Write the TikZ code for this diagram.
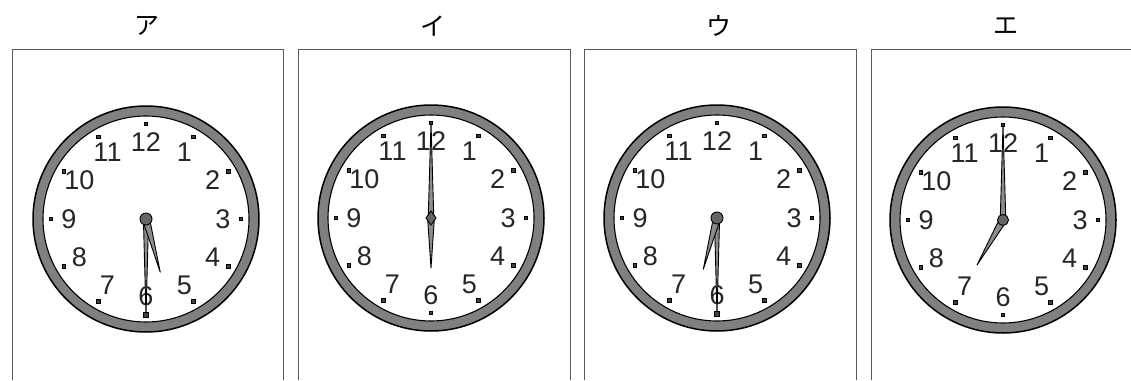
\documentclass[tikz,border=0pt]{standalone}
\usepackage{fontspec}
\setmainfont{Liberation Sans}
\newfontfamily\cjk{Noto Sans CJK JP}
\tikzset{
  frameline/.style={draw=black!65, line width=1pt},
  title/.style={font=\cjk\fontsize{25}{25}\selectfont, inner sep=0pt},
  ringstyle/.style={fill=black!50, draw=black, line width=1.5pt},
  facestyle/.style={fill=white, draw=black, line width=1.1pt},
  numstyle/.style={font=\fontsize{27}{27}\selectfont, inner sep=0pt, text=black!85},
  tickstyle/.style={fill=black!75, draw=black, line width=0.8pt},
  handstyle/.style={fill=black!45, draw=black, line width=0.9pt, line join=round},
  hubstyle/.style={fill=black!60, draw=black, line width=0.9pt}
}
% \myhand{angle}{length}{halfwidth}
\newcommand{\myhand}[3]{%
  \filldraw[handstyle] (#1+90:#3) -- (#1:#2) -- (#1-90:#3) -- (#1+180:#3) -- cycle;}
% \myclockface{cx}{cy}{prefix}
\newcommand{\myclockface}[3]{%
  \begin{scope}[shift={(#1,#2)}]
    \filldraw[ringstyle] (0,0) circle (113);
    \filldraw[facestyle] (0,0) circle (103);
    \foreach \h in {1,...,12}{
      \pgfmathsetmacro{\ang}{-90+30*\h}
      \filldraw[tickstyle] (\ang:95) ++(-1.8,-1.8) rectangle ++(3.6,3.6);
      \node[numstyle] (#3n\h) at (\ang:77) {\h};
    }
  \end{scope}}
\begin{document}
\begin{tikzpicture}[x=1pt,y=-1pt]
\useasboundingbox (0,0) rectangle (1131,380);
% frames
\draw[frameline] (12,380) -- (12,49) -- (283,49) -- (283,380);
\draw[frameline] (298,380) -- (298,49) -- (570,49) -- (570,380);
\draw[frameline] (584,380) -- (584,49) -- (856,49) -- (856,380);
\draw[frameline] (871,380) -- (871,49) -- (1131,49);
% titles
\node[title] (ta) at (147,26) {ア};
\node[title] (ti) at (433,26) {イ};
\node[title] (tu) at (719,26) {ウ};
\node[title] (te) at (1006,26) {エ};
% clock A : 5:30
\myclockface{146}{219}{a}
\begin{scope}[shift={(146,219)}]
  \myhand{90}{96}{2.6}
  \filldraw[tickstyle] (0,96) ++(-2.2,-2.2) rectangle ++(4.4,4.4);
  \myhand{75}{55}{3.6}
  \filldraw[hubstyle] (0,0) circle (6);
\end{scope}
% clock I : 6:00
\myclockface{431}{218}{i}
\begin{scope}[shift={(431,218)}]
  \myhand{-90}{95}{2.8}
  \myhand{90}{50}{3.4}
  \filldraw[hubstyle] (0,-7) -- (5,0) -- (0,7) -- (-5,0) -- cycle;
\end{scope}
% clock U : 6:30
\myclockface{717}{218}{u}
\begin{scope}[shift={(717,218)}]
  \myhand{90}{96}{2.6}
  \filldraw[tickstyle] (0,96) ++(-2.2,-2.2) rectangle ++(4.4,4.4);
  \myhand{105}{53}{3.6}
  \filldraw[hubstyle] (0,0) circle (6);
\end{scope}
% clock E : 7:00
\myclockface{1003}{220}{e}
\begin{scope}[shift={(1003,220)}]
  \myhand{-90}{95}{2.8}
  \myhand{120}{52}{3.6}
  \filldraw[hubstyle] (0,0) circle (5.5);
\end{scope}
\end{tikzpicture}
\end{document}
